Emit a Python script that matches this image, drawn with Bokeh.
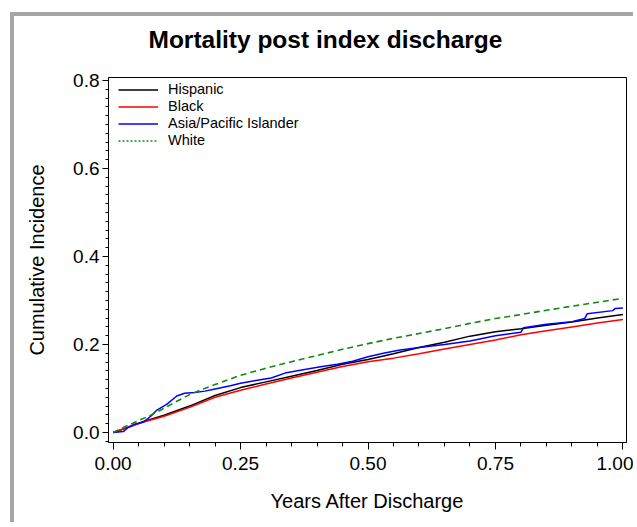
from bokeh.plotting import figure
from bokeh.models import (Legend, LegendItem, SingleIntervalTicker, Title,
                          NumeralTickFormatter, Range1d)
from bokeh.embed import file_html
from bokeh.resources import INLINE

# ---- data ----
years_hisp = [0, 0.03, 0.06, 0.10, 0.15, 0.20, 0.25, 0.30, 0.35, 0.40, 0.45, 0.50,
              0.55, 0.60, 0.65, 0.70, 0.75, 0.80, 0.85, 0.90, 0.95, 1.00]
inc_hisp = [0, 0.012, 0.025, 0.039, 0.060, 0.084, 0.102, 0.115, 0.128, 0.141, 0.155, 0.166,
            0.179, 0.193, 0.205, 0.219, 0.229, 0.236, 0.244, 0.251, 0.260, 0.268]

years_black = [0, 0.03, 0.06, 0.10, 0.15, 0.20, 0.25, 0.30, 0.35, 0.40, 0.45, 0.50,
               0.55, 0.60, 0.65, 0.70, 0.75, 0.80, 0.85, 0.90, 0.95, 1.00]
inc_black = [0, 0.012, 0.024, 0.037, 0.057, 0.080, 0.096, 0.110, 0.124, 0.137, 0.150, 0.161,
             0.169, 0.179, 0.190, 0.200, 0.210, 0.222, 0.231, 0.240, 0.249, 0.257]

years_asian = [0, 0.02, 0.03, 0.04, 0.06, 0.075, 0.085, 0.105, 0.125, 0.14, 0.16, 0.18, 0.20,
               0.23, 0.25, 0.28, 0.31, 0.34, 0.37, 0.41, 0.44, 0.47, 0.50, 0.53, 0.56, 0.60,
               0.65, 0.70, 0.75, 0.80, 0.805, 0.85, 0.90, 0.925, 0.93, 0.98, 0.985, 1.00]
inc_asian = [0, 0.002, 0.012, 0.018, 0.024, 0.038, 0.050, 0.064, 0.083, 0.089, 0.091, 0.094, 0.099,
             0.106, 0.112, 0.118, 0.124, 0.136, 0.142, 0.150, 0.155, 0.162, 0.172, 0.180, 0.187, 0.193,
             0.200, 0.208, 0.220, 0.228, 0.238, 0.246, 0.252, 0.259, 0.270, 0.277, 0.282, 0.283]

years_white = [0, 0.025, 0.05, 0.075, 0.10, 0.125, 0.15, 0.175, 0.20, 0.25, 0.30, 0.35, 0.40,
               0.45, 0.50, 0.55, 0.60, 0.65, 0.70, 0.75, 0.80, 0.85, 0.90, 0.95, 1.00]
inc_white = [0, 0.014, 0.027, 0.040, 0.055, 0.071, 0.086, 0.098, 0.109, 0.130, 0.146, 0.161, 0.175,
             0.189, 0.202, 0.214, 0.225, 0.236, 0.248, 0.259, 0.268, 0.278, 0.287, 0.296, 0.305]

group_names = ["Hispanic", "Black", "Asia/Pacific Islander", "White"]
title_text = "Mortality post index discharge"

FONT = "Liberation Sans"

p = figure(width=623, height=510, output_backend="svg", toolbar_location=None,
           x_range=Range1d(-0.009, 1.007), y_range=Range1d(-0.0228, 0.807),
           min_border_left=94, min_border_right=11, min_border_top=61, min_border_bottom=84,
           title=title_text)
p.styles = {"margin-left": "10px", "margin-top": "12px",
            "border-left": "4px solid #a6a6a6", "border-top": "4px solid #a6a6a6"}

# empty spacer between title and frame (keeps the title up near the top)
p.add_layout(Title(text=" ", text_font_size="1px", standoff=22), "above")

p.title.align = "left"
p.title.offset = 40
p.title.standoff = 0
p.title.text_font = FONT
p.title.text_font_size = "24.5px"
p.title.text_font_style = "bold"
p.title.text_color = "black"

p.xgrid.visible = False
p.ygrid.visible = False
p.outline_line_color = "black"
p.outline_line_width = 1
p.outline_line_alpha = 1

# axes
p.xaxis.ticker = SingleIntervalTicker(interval=0.25, num_minor_ticks=5)
p.yaxis.ticker = SingleIntervalTicker(interval=0.2, num_minor_ticks=10)
p.xaxis.formatter = NumeralTickFormatter(format="0.00")
p.yaxis.formatter = NumeralTickFormatter(format="0.0")
for ax in (p.xaxis, p.yaxis):
    ax.axis_line_color = "black"
    ax.major_tick_line_color = "black"
    ax.minor_tick_line_color = "black"
    ax.major_tick_in = 0
    ax.minor_tick_in = 0
    ax.major_label_text_font = FONT
    ax.major_label_text_font_size = "19px"
    ax.major_label_text_color = "black"
    ax.axis_label_text_font = FONT
    ax.axis_label_text_font_size = "20px"
    ax.axis_label_text_font_style = "normal"
    ax.axis_label_text_color = "black"
p.xaxis.major_tick_out = 7
p.xaxis.minor_tick_out = 4
p.yaxis.major_tick_out = 6
p.yaxis.minor_tick_out = 3
p.xaxis.major_label_standoff = 7
p.yaxis.major_label_standoff = 3
p.xaxis.axis_label = "Years After Discharge"
p.yaxis.axis_label = "Cumulative Incidence"
p.xaxis.axis_label_standoff = 17
p.yaxis.axis_label_standoff = 22

# curves
r_h = p.line(years_hisp, inc_hisp, line_color="black", line_width=1.5)
r_b = p.line(years_black, inc_black, line_color="#ff0000", line_width=1.5)
r_a = p.line(years_asian, inc_asian, line_color="#0000ff", line_width=1.5)
p.line(years_white, inc_white, line_color="#118a11", line_width=1.6, line_dash="6 4")
# legend swatch for White (drawn dotted in the legend; a single undefined point, nothing plotted)
r_w = p.line(x=[float("nan")], y=[float("nan")], line_color="#118a11", line_width=1.5,
             line_dash="2 2")

renderers = [r_h, r_b, r_a, r_w]
legend = Legend(items=[LegendItem(label=n, renderers=[r]) for n, r in zip(group_names, renderers)],
                location=(10, 293.5))
legend.background_fill_alpha = 0
legend.border_line_alpha = 0
legend.padding = 0
legend.margin = 0
legend.spacing = 0
legend.glyph_width = 40
legend.glyph_height = 17
legend.label_height = 17
legend.label_standoff = 10
legend.label_text_font = FONT
legend.label_text_font_size = "14.5px"
legend.label_text_color = "black"
p.add_layout(legend)

open("out.html", "w").write(file_html(p, INLINE))
